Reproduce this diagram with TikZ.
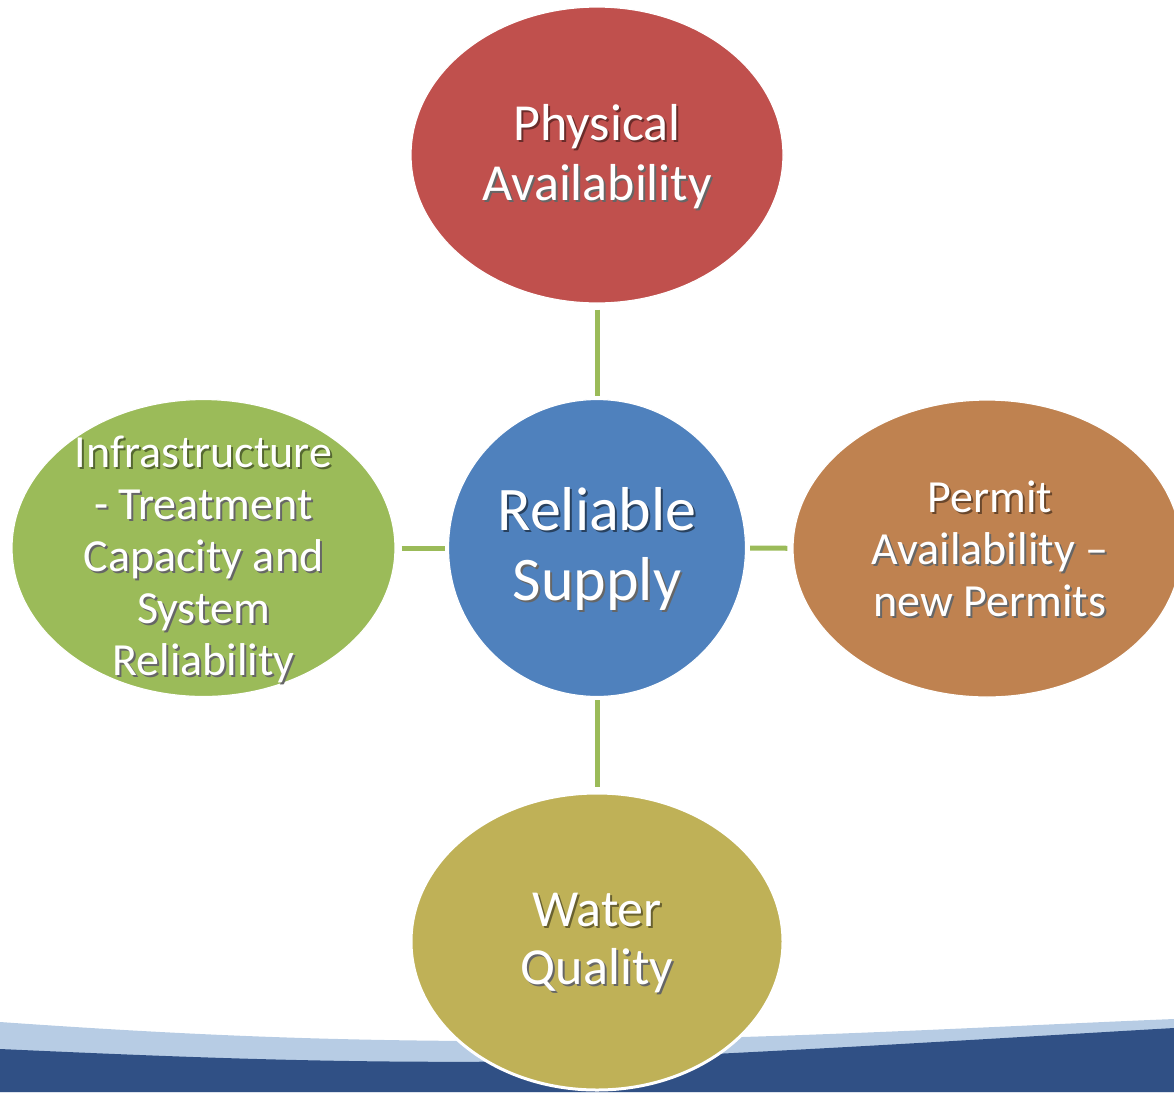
\documentclass[tikz,border=0pt]{standalone}
\usepackage{fontspec}
\setmainfont{Carlito}
\usetikzlibrary{shapes.geometric}
\definecolor{cred}{HTML}{C0504D}
\definecolor{cblue}{HTML}{4F81BD}
\definecolor{cgreen}{HTML}{9BBB59}
\definecolor{cbrown}{HTML}{BF8250}
\definecolor{colive}{HTML}{BFB157}
\definecolor{bandlight}{HTML}{B7CCE4}
\definecolor{banddark}{HTML}{305085}
\colorlet{shc}{black!60}
\newcommand\sline[1]{\makebox[0pt][l]{\kern2pt\raisebox{-2pt}{\textcolor{shc}{#1}}}#1}
\tikzset{
  bub/.style={ellipse, draw=white, line width=1.2, inner sep=0pt},
  txt/.style={text=white, align=center, inner sep=0pt},
  conn/.style={draw=cgreen, line width=5},
}
\begin{document}
\begin{tikzpicture}[x=1pt,y=-1pt]
\useasboundingbox (0,0) rectangle (1174,1092);
\clip (0,0) rectangle (1174,1092);
% bottom band
\fill[bandlight] (0,1022) .. controls (200,1036) and (350,1042) .. (560,1041)
  .. controls (800,1038) and (1000,1026) .. (1174,1019) -- (1174,1092) -- (0,1092) -- cycle;
\fill[banddark] (0,1049) .. controls (200,1058) and (350,1064) .. (560,1061)
  .. controls (800,1051) and (1000,1038) .. (1174,1028) -- (1174,1092) -- (0,1092) -- cycle;
% nodes
\node[bub, fill=cred, minimum width=372, minimum height=296,
  label={[txt, font=\fontsize{52}{60}\selectfont, yshift=-3]center:{\colorlet{shc}{cred!55!black}\sline{Physical}\\\sline{Availability}}}]
  (phys) at (597,155) {};
\node[bub, fill=cblue, minimum width=297, minimum height=297,
  label={[txt, font=\fontsize{62}{70}\selectfont, yshift=-2]center:{\colorlet{shc}{cblue!50!black}\sline{Reliable}\\\sline{Supply}}}]
  (rel) at (597,548) {};
\node[bub, fill=cgreen, minimum width=383, minimum height=297,
  label={[txt, font=\fontsize{46}{52}\selectfont, yshift=-12]center:{\colorlet{shc}{cgreen!55!black}\sline{Infrastructure}\\\sline{- Treatment}\\\sline{Capacity and}\\\sline{System}\\\sline{Reliability}}}]
  (infra) at (203.5,548) {};
\node[bub, fill=cbrown, minimum width=388, minimum height=297,
  label={[txt, font=\fontsize{46}{52}\selectfont, yshift=-1, xshift=3]center:{\colorlet{shc}{cbrown!55!black}\sline{Permit}\\\sline{Availability –}\\\sline{new Permits}}}]
  (permit) at (987,548.5) {};
\node[bub, fill=colive, draw=white, line width=3, minimum width=372, minimum height=297,
  label={[txt, font=\fontsize{52}{58}\selectfont, yshift=-2]center:{\colorlet{shc}{colive!55!black}\sline{Water}\\\sline{Quality}}}]
  (water) at (597,941.5) {};
% connectors
\draw[conn, shorten <=6, shorten >=3] (phys) -- (rel);
\draw[conn, shorten <=6, shorten >=3] (infra) -- (rel);
\draw[conn, shorten <=4, shorten >=5] (rel) -- (permit);
\draw[conn, shorten <=3, shorten >=5] (rel) -- (water);
\end{tikzpicture}
\end{document}
